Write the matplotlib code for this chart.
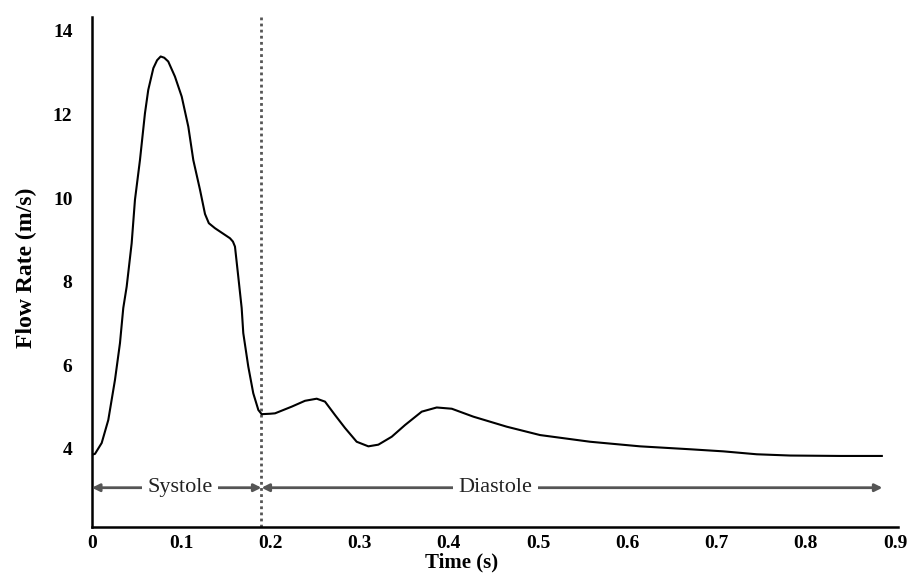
import matplotlib.pyplot as plt
import numpy as np

# flow waveform
time_s = [0.0, 0.0034, 0.0109, 0.0183, 0.0258, 0.0314, 0.0351, 0.0389, 0.0445,
          0.0482, 0.0538, 0.0594, 0.0631, 0.0688, 0.073, 0.077, 0.081, 0.0855,
          0.093, 0.1006, 0.108, 0.1136, 0.1211, 0.1267, 0.131, 0.1379, 0.1547,
          0.158, 0.1603, 0.164, 0.1678, 0.1696, 0.1752, 0.1808, 0.1865, 0.1902,
          0.1996, 0.2052, 0.2239, 0.2388, 0.2519, 0.2612, 0.2724, 0.2836, 0.2967,
          0.3098, 0.321, 0.336, 0.3509, 0.3696, 0.3864, 0.4033, 0.4275, 0.4649,
          0.5022, 0.5583, 0.6143, 0.6704, 0.7077, 0.7451, 0.7825, 0.8386, 0.8853]
flow = [3.86, 3.88, 4.14, 4.69, 5.65, 6.53, 7.37, 7.88, 8.92,
        9.96, 10.91, 12.03, 12.59, 13.11, 13.3, 13.39, 13.36, 13.27,
        12.91, 12.43, 11.71, 10.91, 10.2, 9.62, 9.4, 9.28, 9.04,
        8.96, 8.84, 8.12, 7.37, 6.77, 5.97, 5.33, 4.93, 4.83,
        4.84, 4.85, 5.01, 5.15, 5.2, 5.13, 4.81, 4.5, 4.17,
        4.06, 4.1, 4.29, 4.57, 4.89, 4.99, 4.96, 4.77, 4.53,
        4.33, 4.17, 4.06, 3.99, 3.94, 3.87, 3.84, 3.83, 3.83]

t_split = 0.19
t_end = 0.886
phases = ['Systole', 'Diastole']
phase_spans = [(0.0, t_split), (t_split, t_end)]
phase_label_x = [0.0987, 0.452]

xticks = [0, 0.1, 0.2, 0.3, 0.4, 0.5, 0.6, 0.7, 0.8, 0.9]
xtick_labels = ['0', '0.1', '0.2', '0.3', '0.4', '0.5', '0.6', '0.7', '0.8', '0.9']
yticks = [4, 6, 8, 10, 12, 14]

plt.rcParams['font.family'] = ['Liberation Serif', 'DejaVu Serif']

fig = plt.figure(figsize=(9.15, 5.73), dpi=100)
ax = fig.add_axes([0.1005, 0.0803, 0.8805, 0.8897])

ax.plot(time_s, flow, color='black', linewidth=1.5, zorder=3,
        solid_joinstyle='round')

# systole / diastole boundary
ax.axvline(t_split, color='#555555', linestyle=(0, (1, 1.2)), linewidth=2, zorder=2)

# phase arrows with labels
arrow_y = 3.07
for name, (a, b), lx in zip(phases, phase_spans, phase_label_x):
    ax.annotate('', xy=(a, arrow_y), xytext=(b, arrow_y),
                arrowprops=dict(arrowstyle='<|-|>', color='#555555', lw=2,
                                mutation_scale=11, shrinkA=0, shrinkB=0))
    ax.text(lx, arrow_y, name, ha='center', va='center', fontsize=16,
            color='#222222',
            bbox=dict(facecolor='white', edgecolor='none', pad=4), zorder=4)

ax.set_xlim(0, 0.903)
ax.set_ylim(2.13, 14.33)
ax.set_xticks(xticks)
ax.set_xticklabels(xtick_labels)
ax.set_yticks(yticks)
ax.tick_params(length=0, labelsize=14)
ax.tick_params(axis='y', pad=14)
ax.tick_params(axis='x', pad=6)
for lbl in ax.get_xticklabels() + ax.get_yticklabels():
    lbl.set_fontweight('bold')

ax.spines['top'].set_visible(False)
ax.spines['right'].set_visible(False)
ax.spines['left'].set_linewidth(1.8)
ax.spines['bottom'].set_linewidth(1.8)

ax.set_ylabel('Flow Rate (m/s)', fontsize=17, fontweight='bold')
ax.yaxis.set_label_coords(-0.068, 0.508)
ax.set_xlabel('Time (s)', fontsize=15, fontweight='bold', va='bottom')
ax.xaxis.set_label_coords(0.459, -0.089)

fig.savefig('out.png', dpi=100)
